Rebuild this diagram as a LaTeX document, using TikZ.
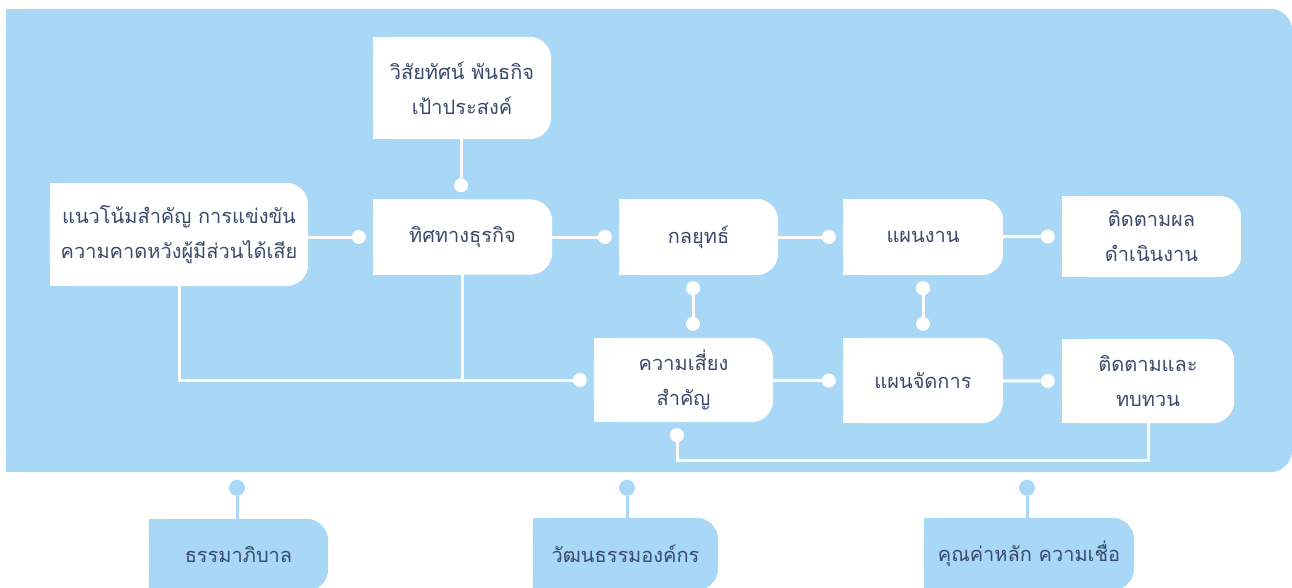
\documentclass[tikz,border=0pt]{standalone}
\usepackage{fontspec}
\newfontfamily\thaifont[Script=Thai]{Loma}
\usetikzlibrary{backgrounds}
\definecolor{sky}{HTML}{A8D8F5}
\definecolor{ink}{HTML}{3B4A6B}
\tikzset{
	box/.style={inner sep=0pt, align=center, text=ink, font=\thaifont\fontsize{20}{35}\selectfont},
	link/.style={draw=white, line width=3pt},
	blink/.style={draw=sky, line width=3pt},
	dot/.style={circle, fill=white, inner sep=0pt, minimum size=14pt},
	bdot/.style={circle, fill=sky, inner sep=0pt, minimum size=16pt},
}
\newcommand{\halfround}[2]{%
	\fill[#1, rounded corners=22pt] (#2.north west) rectangle (#2.south east);
	\fill[#1] (#2.north west) rectangle (#2.south);
}

\begin{document}
\begin{tikzpicture}[x=1pt, y=-1pt]
	\useasboundingbox (0,0) rectangle (1292,587);
	\node[inner sep=0pt, minimum width=1286pt, minimum height=463pt] (panel) at (649,240.5) {};

	\node[box, minimum width=178pt, minimum height=102pt] (vis) at (462,88) {วิสัยทัศน์ พันธกิจ\\เป้าประสงค์};
	\node[box, minimum width=258pt, minimum height=103pt] (trend) at (179,234.5) {แนวโน้มสำคัญ การแข่งขัน\\ความคาดหวังผู้มีส่วนได้เสีย};
	\node[box, minimum width=179pt, minimum height=75pt] (dir) at (462.5,237) {ทิศทางธุรกิจ};
	\node[box, minimum width=159pt, minimum height=76pt] (strat) at (698.5,237) {กลยุทธ์};
	\node[box, minimum width=160pt, minimum height=76pt] (plan) at (923,237) {แผนงาน};
	\node[box, minimum width=179pt, minimum height=81pt] (track) at (1151.5,236.5) {ติดตามผล\\ดำเนินงาน};
	\node[box, minimum width=179pt, minimum height=84pt] (risk) at (683.5,380) {ความเสี่ยง\\สำคัญ};
	\node[box, minimum width=160pt, minimum height=85pt] (mgmt) at (923,380.5) {แผนจัดการ};
	\node[box, minimum width=172pt, minimum height=84pt] (review) at (1148,381) {ติดตามและ\\ทบทวน};

	\node[box, minimum width=179pt, minimum height=72pt] (gov) at (238.5,555) {ธรรมาภิบาล};
	\node[box, minimum width=185pt, minimum height=72pt] (cult) at (625.5,554) {วัฒนธรรมองค์กร};
	\node[box, minimum width=210pt, minimum height=72pt] (val) at (1029,554) {คุณค่าหลัก ความเชื่อ};

	\begin{scope}[on background layer]
		\halfround{sky}{panel}
		\foreach \n in {vis,trend,dir,strat,plan,track,risk,mgmt,review}
			{\halfround{white}{\n}}
		\foreach \n in {gov,cult,val}
			{\halfround{sky}{\n}}
	\end{scope}

	\node[dot] (d1) at ([xshift=-1.5pt, yshift=14pt]dir.north) {};
	\draw[link] (d1) -- (d1 |- vis.south);
	\node[dot] (d2) at ([xshift=-14pt]dir.west) {};
	\draw[link] (trend.east |- d2) -- (d2);
	\node[dot] (d3) at ([xshift=-14pt]strat.west) {};
	\draw[link] (dir) -- (d3);
	\node[dot] (d4) at ([xshift=-14pt]plan.west) {};
	\draw[link] (strat) -- (d4);
	\node[dot] (d5) at ([xshift=-14pt]track.west) {};
	\draw[link] (plan) -- (d5);

	\node[dot] (d6) at ([xshift=-5.5pt, yshift=-13pt]strat.south) {};
	\node[dot] (d7) at ([yshift=14pt]risk.north -| d6) {};
	\draw[link] (d6) -- (d7);
	\node[dot] (d8) at ([yshift=-13pt]plan.south) {};
	\node[dot] (d9) at ([yshift=14pt]mgmt.north) {};
	\draw[link] (d8) -- (d9);

	\node[dot] (d10) at ([xshift=-14pt]risk.west) {};
	\draw[link] (trend.south) |- (d10);
	\draw[link] (dir.south) -- (dir.south |- d10);
	\node[dot] (d11) at ([xshift=-14pt]mgmt.west) {};
	\draw[link] (risk) -- (d11);
	\node[dot] (d12) at ([xshift=-14pt]review.west) {};
	\draw[link] (mgmt) -- (d12);
	\node[dot] (d13) at ([xshift=-6.5pt, yshift=-13pt]risk.south) {};
	\draw[link] (d13) -- ++(0,25) -| (review.south);

	\node[bdot] (b1) at ([xshift=-1.5pt, yshift=31pt]gov.north) {};
	\draw[blink] (b1) -- (b1 |- gov.north);
	\node[bdot] (b2) at ([xshift=1.5pt, yshift=30pt]cult.north) {};
	\draw[blink] (b2) -- (b2 |- cult.north);
	\node[bdot] (b3) at ([xshift=-2pt, yshift=30pt]val.north) {};
	\draw[blink] (b3) -- (b3 |- val.north);
\end{tikzpicture}
\end{document}
